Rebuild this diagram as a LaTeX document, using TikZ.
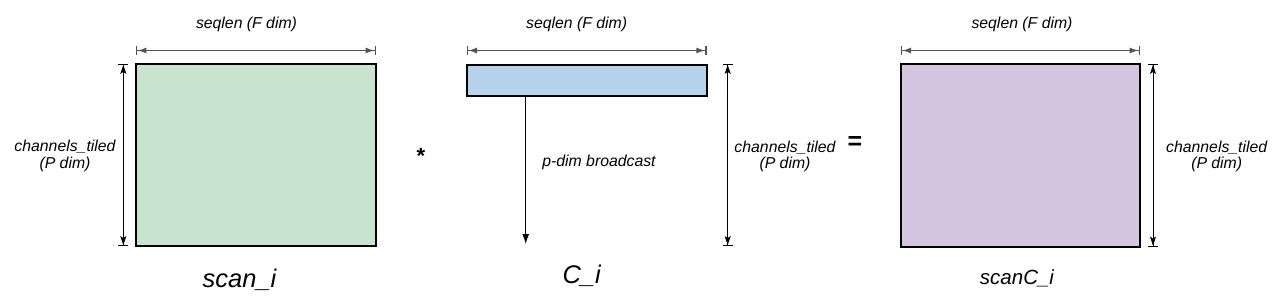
\documentclass[tikz,border=0pt]{standalone}
\usepackage{fontspec}
\setmainfont{Liberation Sans}
\usetikzlibrary{arrows.meta}
\definecolor{mgreen}{RGB}{199,229,206}
\definecolor{mblue}{RGB}{181,211,234}
\definecolor{mpurple}{RGB}{212,197,224}
\definecolor{dimgray}{RGB}{85,85,85}
\begin{document}
\begin{tikzpicture}[x=1pt,y=-1pt,
  mat/.style={draw=black, line width=2pt, inner sep=0pt, outer sep=0pt, anchor=north west},
  dimh/.style={draw=dimgray, line width=1.6pt, {Bar[width=9pt,line width=1.3pt]Latex[length=9pt,width=6pt]}-{Latex[length=9pt,width=6pt]Bar[width=9pt,line width=1.3pt]}},
  dimv/.style={draw=black, line width=0.9pt, {Bar[width=10pt,line width=0.9pt]Stealth[length=9pt,width=6pt,inset=2pt]}-{Stealth[length=9pt,width=6pt,inset=2pt]Bar[width=10pt,line width=0.9pt]}},
  lbl/.style={font=\fontsize{15.8}{16.5}\selectfont\itshape, align=center, inner sep=0pt},
  big/.style={font=\fontsize{25.5}{28}\selectfont\itshape, inner sep=0pt},
  mid/.style={font=\fontsize{20.5}{24}\selectfont\itshape, inner sep=0pt},
  op/.style={font=\fontsize{22}{24}\selectfont\bfseries, inner sep=0pt}
]
\useasboundingbox (0,0) rectangle (1288,305);
% matrices
\node[mat, fill=mgreen, minimum width=240pt, minimum height=182pt] (A) at (136,64) {};
\node[mat, fill=mblue, minimum width=240pt, minimum height=31pt] (B) at (466.7,65) {};
\node[mat, fill=mpurple, minimum width=239.3pt, minimum height=182.5pt] (S) at (900.7,64) {};
% top dimension arrows
\draw[dimh] ([yshift=13.5pt]A.north west) coordinate (a1) -- ([yshift=13.5pt]A.north east) coordinate (a2);
\draw[dimh] ([yshift=14.5pt]B.north west) coordinate (b1) -- ([yshift=14.5pt]B.north east) coordinate (b2);
\draw[dimh] ([yshift=13.5pt]S.north west) coordinate (s1) -- ([yshift=13.5pt]S.north east) coordinate (s2);
% side dimension arrows
\draw[dimv] ([xshift=-12.7pt]A.north west) coordinate (a3) -- ([xshift=-12.7pt]A.south west) coordinate (a4);
\coordinate (b3) at (727.7,64);
\coordinate (b4) at (727.7,246);
\draw[dimv] (b3) -- (b4);
\draw[dimv] ([xshift=13pt]S.north east) coordinate (s3) -- ([xshift=13pt]S.south east) coordinate (s4);
% broadcast arrow
\coordinate (bc) at (525.7,244);
\draw[black, line width=1.1pt, -{Latex[length=10pt,width=7pt]}] (B.south west -| bc) -- (bc);
% labels
\node[lbl] (t1) at (246.5,24) {seqlen (F dim)};
\node[lbl] (t2) at (576.7,24) {seqlen (F dim)};
\node[lbl] (t3) at (1022,24) {seqlen (F dim)};
\node[lbl] (c1) at (65,156) {channels\_tiled\\(P dim)};
\node[lbl] (c2) at (785,156.5) {channels\_tiled\\(P dim)};
\node[lbl] (c3) at (1216.7,156.5) {channels\_tiled\\(P dim)};
\node[lbl] (pb) at (599,162) {p-dim broadcast};
\node[big] (n1) at (239.5,280) {scan\_i};
\node[big] (n2) at (581.7,276) {C\_i};
\node[mid] (n3) at (1017,278.5) {scanC\_i};
\node[op] (star) at (421,156) {*};
\node[op, font=\fontsize{25}{26}\selectfont\bfseries] (eq) at (855,143) {=};
\end{tikzpicture}
\end{document}
